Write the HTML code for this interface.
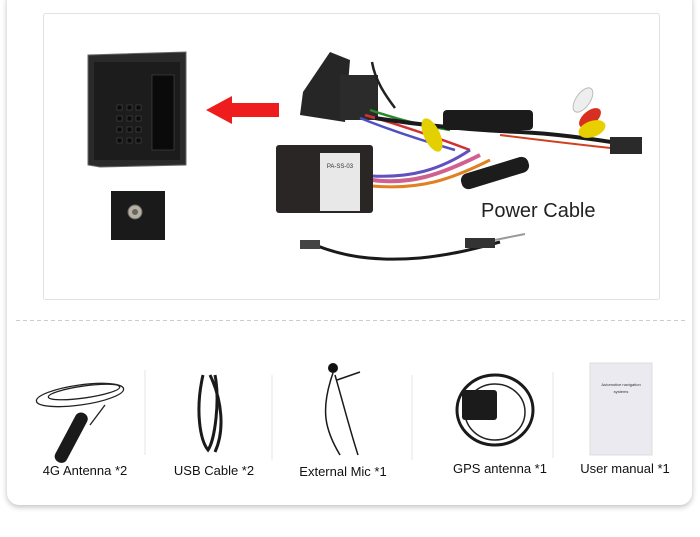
<!DOCTYPE html>
<html><head><style>
html,body{margin:0;padding:0;background:#fff;}
body{width:700px;height:537px;overflow:hidden;position:relative;font-family:"Liberation Sans",sans-serif;}
.card{position:absolute;left:7px;top:-10px;width:685px;height:515px;background:#fff;border-radius:12px;box-shadow:0 2px 6px rgba(0,0,0,0.25);}
svg{position:absolute;left:0;top:0;}
</style></head><body>
<div class="card"></div>
<svg width="700" height="537" viewBox="0 0 700 537">
<rect x="43.5" y="13.5" width="616" height="286" fill="#fff" stroke="#e2e2e2" rx="2"/>
<!-- connector block -->
<polygon points="88,55 186,52 186,165 100,167 88,165" fill="#2a2a2a" stroke="#666"/>
<rect x="94" y="62" width="86" height="98" fill="#1c1c1c"/>
<g fill="#0a0a0a" stroke="#555" stroke-width="0.5">
<rect x="117" y="105" width="5" height="5"/><rect x="127" y="105" width="5" height="5"/><rect x="136" y="105" width="5" height="5"/>
<rect x="117" y="116" width="5" height="5"/><rect x="127" y="116" width="5" height="5"/><rect x="136" y="116" width="5" height="5"/>
<rect x="117" y="127" width="5" height="5"/><rect x="127" y="127" width="5" height="5"/><rect x="136" y="127" width="5" height="5"/>
<rect x="117" y="138" width="5" height="5"/><rect x="127" y="138" width="5" height="5"/><rect x="136" y="138" width="5" height="5"/>
<rect x="152" y="75" width="22" height="75"/>
</g>
<!-- red arrow -->
<polygon points="206,110 232,96 232,103 279,103 279,117 232,117 232,124" fill="#ee1c1c"/>
<!-- antenna socket -->
<rect x="111" y="191" width="54" height="49" fill="#1a1a1a"/>
<circle cx="135" cy="212" r="7" fill="#b8b0a0" stroke="#666"/>
<circle cx="135" cy="212" r="3" fill="#666"/>
<!-- harness -->
<polygon points="303,92 330,52 350,60 345,122 300,115" fill="#262626"/>
<rect x="340" y="75" width="38" height="45" fill="#2b2b2b"/>
<g fill="none" stroke-width="2.5">
<path d="M372,62 C375,80 385,95 395,108" stroke="#222"/>
<path d="M370,110 C400,120 420,125 450,130" stroke="#2a8a2a"/>
<path d="M365,115 C400,125 430,135 470,150" stroke="#d03030"/>
<path d="M360,118 C390,130 420,140 455,150" stroke="#5050c0"/>
<path d="M375,118 C420,125 470,130 520,132 C560,134 600,140 630,145" stroke="#1a1a1a" stroke-width="4"/>
<path d="M372,180 C410,185 440,175 480,155" stroke="#d06090" stroke-width="4"/>
<path d="M372,186 C420,190 450,180 490,160" stroke="#e08020" stroke-width="3"/>
<path d="M372,176 C410,178 440,170 470,150" stroke="#6050c0" stroke-width="3"/>
<path d="M500,135 C540,140 580,145 630,150" stroke="#d04020" stroke-width="2"/>
</g>
<rect x="443" y="110" width="90" height="20" fill="#1b1b1b" rx="4"/>
<ellipse cx="432" cy="135" rx="8" ry="18" fill="#e4d000" transform="rotate(-25 432 135)"/>
<ellipse cx="583" cy="100" rx="7" ry="14" fill="#eee" stroke="#bbb" transform="rotate(35 583 100)"/>
<ellipse cx="590" cy="118" rx="7" ry="13" fill="#d83020" transform="rotate(50 590 118)"/>
<ellipse cx="592" cy="129" rx="8" ry="14" fill="#e8d000" transform="rotate(70 592 129)"/>
<rect x="610" y="137" width="32" height="17" fill="#2a2a2a"/>
<rect x="460" y="165" width="70" height="16" fill="#1c1c1c" rx="7" transform="rotate(-17 495 173)"/>
<rect x="276" y="145" width="97" height="68" fill="#2a2626" rx="3"/>
<rect x="320" y="153" width="40" height="58" fill="#e8e8e8"/>
<text x="340" y="168" font-size="6" text-anchor="middle" fill="#333">PA-SS-03</text>
<!-- antenna cable -->
<path d="M315,245 C340,255 370,262 420,258 C450,255 470,250 500,242" fill="none" stroke="#1a1a1a" stroke-width="3"/>
<rect x="300" y="240" width="20" height="9" fill="#444"/>
<rect x="465" y="238" width="30" height="10" fill="#333"/>
<line x1="495" y1="240" x2="525" y2="234" stroke="#999" stroke-width="2"/>
<text x="481" y="217" font-size="20" fill="#222">Power Cable</text>
<line x1="16" y1="320.5" x2="685" y2="320.5" stroke="#ccc" stroke-dasharray="4,3"/>
<g stroke="#e6e6e6"><line x1="145" y1="370" x2="145" y2="455"/><line x1="272" y1="375" x2="272" y2="460"/><line x1="412" y1="375" x2="412" y2="460"/><line x1="553" y1="372" x2="553" y2="458"/></g>
<!-- 4G antenna -->
<g fill="none" stroke="#222" stroke-width="1.3"><ellipse cx="80" cy="395" rx="44" ry="10" transform="rotate(-8 80 395)"/><ellipse cx="84" cy="392" rx="36" ry="6" transform="rotate(-8 84 392)"/><path d="M105,405 L90,425"/></g>
<rect x="65" y="410" width="13" height="55" fill="#1a1a1a" rx="6" transform="rotate(28 71 437)"/>
<!-- USB -->
<g fill="none" stroke="#1a1a1a" stroke-width="3"><path d="M203,375 C195,410 200,440 208,450 C215,440 220,400 215,375"/><path d="M210,375 C222,400 225,430 215,452"/></g>
<!-- mic -->
<circle cx="333" cy="368" r="5" fill="#111"/>
<g fill="none" stroke="#1a1a1a" stroke-width="1.5"><path d="M333,373 C320,410 325,430 340,455"/><path d="M335,375 C345,410 350,430 358,455"/><path d="M337,380 L360,372"/></g>
<!-- GPS -->
<ellipse cx="495" cy="410" rx="38" ry="35" fill="none" stroke="#1a1a1a" stroke-width="3"/>
<ellipse cx="495" cy="412" rx="30" ry="28" fill="none" stroke="#222" stroke-width="1.5"/>
<rect x="462" y="390" width="35" height="30" fill="#1b1b1b" rx="3"/>
<!-- manual -->
<rect x="590" y="363" width="62" height="92" fill="#eaeaf0" stroke="#ddd"/>
<text x="621" y="386" font-size="4" text-anchor="middle" fill="#333">Automotive navigation</text>
<text x="621" y="393" font-size="4" text-anchor="middle" fill="#333">systems</text>
<g font-size="13" fill="#111" text-anchor="middle">
<text x="85" y="475">4G Antenna *2</text>
<text x="214" y="475">USB Cable *2</text>
<text x="343" y="476">External Mic *1</text>
<text x="500" y="473">GPS antenna *1</text>
<text x="625" y="473">User manual *1</text>
</g>
</svg>
</body></html>
